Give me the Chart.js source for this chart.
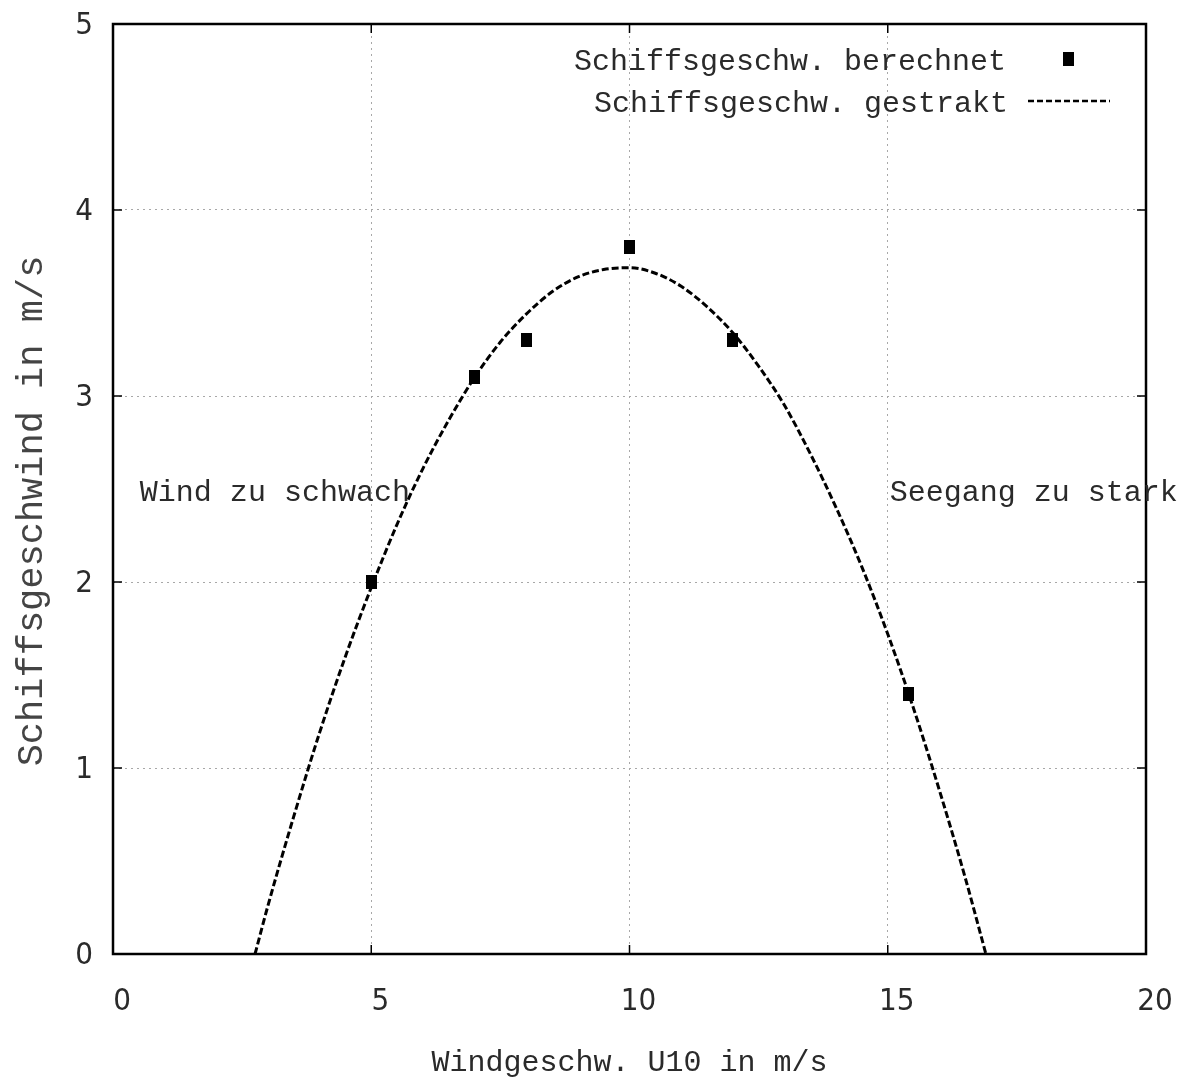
<!DOCTYPE html>
<html>
<head>
<meta charset="utf-8">
<script src="https://cdn.jsdelivr.net/npm/chart.js@4"></script>
<style>
  html, body { margin: 0; padding: 0; background: #fff; }
  #wrap { width: 1178px; height: 1081px; }
</style>
</head>
<body>
<div id="wrap"><canvas id="speedChart" width="1178" height="1081"></canvas></div>
<script>
// computed ship speed (points)
const windPoints = [5, 7, 8, 10, 12, 15.4];
const speedPoints = [2.0, 3.1, 3.3, 3.8, 3.3, 1.4];

// faired curve
const windCurve = [2.75, 3, 3.5, 4, 4.5, 5, 5.5, 6, 6.5, 7, 7.5, 8, 8.5, 9, 9.5, 10,
    10.5, 11, 11.5, 12, 12.5, 13, 13.5, 14, 14.5, 15, 15.5, 16, 16.5, 16.9];
const speedCurve = [0, 0.26, 0.74, 1.19, 1.60, 1.97, 2.31, 2.61, 2.87, 3.10, 3.29, 3.44, 3.56, 3.64, 3.68, 3.69,
    3.66, 3.59, 3.48, 3.34, 3.16, 2.95, 2.69, 2.40, 2.08, 1.72, 1.32, 0.88, 0.41, 0];

const xTicks = [0, 5, 10, 15, 20];
const yTicks = [0, 1, 2, 3, 4, 5];

const labels = {
    points: 'Schiffsgeschw. berechnet',
    curve: 'Schiffsgeschw. gestrakt',
    xTitle: 'Windgeschw. U10 in m/s',
    yTitle: 'Schiffsgeschwind in m/s',
    left: 'Wind zu schwach',
    right: 'Seegang zu stark'
};

const monoFont = '"Liberation Mono", "Courier New", monospace';
const tickFont = '"DejaVu Sans Condensed", "Liberation Sans Narrow", "Liberation Sans", sans-serif';
const textColor = '#2a2a2a';

// tall black marker like the original
const marker = document.createElement('canvas');
marker.width = 11;
marker.height = 14;
marker.getContext('2d').fillRect(0, 0, 11, 14);

const frame = {
    id: 'frame',
    afterDatasetsDraw(chart) {
        const { ctx, chartArea: a, scales } = chart;
        const xs = scales.x, ys = scales.y;
        ctx.save();
        // box
        ctx.strokeStyle = '#000';
        ctx.lineWidth = 2.5;
        ctx.setLineDash([]);
        ctx.strokeRect(a.left, a.top, a.right - a.left, a.bottom - a.top);
        // inner ticks, mirrored
        ctx.lineWidth = 1.5;
        ctx.beginPath();
        xTicks.forEach(v => {
            const px = xs.getPixelForValue(v);
            ctx.moveTo(px, a.bottom); ctx.lineTo(px, a.bottom - 9);
            ctx.moveTo(px, a.top); ctx.lineTo(px, a.top + 9);
        });
        yTicks.forEach(v => {
            const py = ys.getPixelForValue(v);
            ctx.moveTo(a.left, py); ctx.lineTo(a.left + 9, py);
            ctx.moveTo(a.right, py); ctx.lineTo(a.right - 9, py);
        });
        ctx.stroke();

        // legend
        ctx.fillStyle = textColor;
        ctx.font = '30px ' + monoFont;
        ctx.textAlign = 'right';
        ctx.textBaseline = 'middle';
        ctx.fillText(labels.points, 1006, 62);
        ctx.fillText(labels.curve, 1008, 104);
        ctx.drawImage(marker, 1063, 52);
        ctx.strokeStyle = '#000';
        ctx.lineWidth = 2.5;
        ctx.setLineDash([6, 3]);
        ctx.beginPath();
        ctx.moveTo(1028, 101);
        ctx.lineTo(1110, 101);
        ctx.stroke();
        ctx.setLineDash([]);

        // annotations
        ctx.textAlign = 'left';
        ctx.fillText(labels.left, xs.getPixelForValue(0.52), ys.getPixelForValue(2.48));
        ctx.fillText(labels.right, xs.getPixelForValue(15.04), ys.getPixelForValue(2.48));

        // y title
        ctx.save();
        ctx.translate(32, 511);
        ctx.rotate(-Math.PI / 2);
        ctx.textAlign = 'center';
        ctx.fillStyle = '#444';
        ctx.font = '37px ' + monoFont;
        ctx.fillText(labels.yTitle, 0, 0);
        ctx.restore();
        ctx.restore();
    }
};

new Chart(document.getElementById('speedChart').getContext('2d'), {
    type: 'scatter',
    data: {
        datasets: [
            {
                label: labels.points,
                data: windPoints.map((x, i) => ({ x: x, y: speedPoints[i] })),
                pointStyle: marker,
                pointRadius: 7,
                backgroundColor: '#000',
                borderColor: '#000',
                order: 0
            },
            {
                label: labels.curve,
                type: 'line',
                data: windCurve.map((x, i) => ({ x: x, y: speedCurve[i] })),
                borderColor: '#000',
                borderWidth: 3,
                borderDash: [7, 3],
                pointRadius: 0,
                tension: 0.4,
                cubicInterpolationMode: 'monotone',
                fill: false,
                order: 1
            }
        ]
    },
    options: {
        responsive: false,
        animation: false,
        layout: { padding: { top: 24, right: 32, left: 0, bottom: 0 } },
        plugins: {
            legend: { display: false },
            tooltip: { enabled: false }
        },
        scales: {
            x: {
                type: 'linear',
                min: 0,
                max: 20,
                afterFit: s => { s.height = 127; s.paddingLeft = 0; s.paddingRight = 0; },
                afterBuildTicks: s => { s.ticks = xTicks.map(v => ({ value: v })); },
                grid: { color: '#a8a8a8', lineWidth: 1, drawTicks: false },
                border: { display: false, dash: [2, 4] },
                ticks: {
                    color: textColor,
                    font: { family: tickFont, size: 31 },
                    padding: 29,
                    labelOffset: 9,
                    maxRotation: 0
                },
                title: {
                    display: true,
                    text: labels.xTitle,
                    color: textColor,
                    font: { family: monoFont, size: 30 },
                    padding: { top: 19, bottom: 0 }
                }
            },
            y: {
                type: 'linear',
                min: 0,
                max: 5,
                afterFit: s => { s.width = 113; s.paddingTop = 0; s.paddingBottom = 0; },
                afterBuildTicks: s => { s.ticks = yTicks.map(v => ({ value: v })); },
                grid: { color: '#a8a8a8', lineWidth: 1, drawTicks: false },
                border: { display: false, dash: [2, 4] },
                ticks: {
                    color: textColor,
                    font: { family: tickFont, size: 31 },
                    padding: 20,
                    labelOffset: 2
                }
            }
        }
    },
    plugins: [frame]
});
</script>
</body>
</html>
